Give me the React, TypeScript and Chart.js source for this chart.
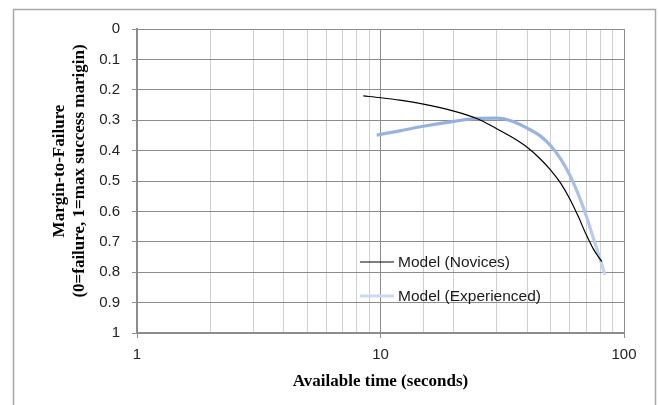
import React, { useEffect, useRef } from 'react';
import { Chart, registerables } from 'chart.js';

Chart.register(...registerables);

// ---- data ----
const noviceX = [8.5, 10, 12, 15, 20, 25, 30, 35, 40, 45, 50, 55, 60, 65, 70, 75, 81];
const noviceY = [0.22, 0.226, 0.234, 0.247, 0.27, 0.295, 0.328, 0.358, 0.389, 0.425, 0.464, 0.508, 0.56, 0.618, 0.677, 0.725, 0.765];

const expX = [9.65, 12, 15, 20, 25, 30, 35, 40, 45, 50, 55, 60, 65, 70, 75, 80, 83.5];
const expY = [0.349, 0.335, 0.32, 0.304, 0.294, 0.293, 0.304, 0.326, 0.35, 0.384, 0.428, 0.482, 0.545, 0.615, 0.69, 0.76, 0.809];

const seriesLabels = ['Model (Novices)', 'Model (Experienced)'];
const xTickLabels = [1, 10, 100];
const xTitle = 'Available time (seconds)';
const yTitle = ['Margin-to-Failure', '(0=failure, 1=max success marigin)'];

const isMajor = (v: number) => {
  if (!(v > 0)) return false;
  const l = Math.log10(v);
  return Math.abs(l - Math.round(l)) < 1e-9;
};

export default function App() {
  const ref = useRef<HTMLCanvasElement>(null);

  useEffect(() => {
    const canvas = ref.current!;
    const ctx = canvas.getContext('2d')!;
    const grad = ctx.createLinearGradient(0, 110, 0, 300);
    grad.addColorStop(0, '#92ade1');
    grad.addColorStop(1, '#cddaf2');

    const decor = {
      id: 'decor',
      beforeDraw(chart: any) {
        const c = chart.ctx;
        c.save();
        c.fillStyle = '#ffffff';
        c.fillRect(0, 0, chart.width, chart.height);
        c.strokeStyle = '#a8a8a8';
        c.lineWidth = 1.5;
        c.strokeRect(13.5, 9.5, 642, 430);
        c.restore();
      },
      afterDraw(chart: any) {
        const c = chart.ctx;
        c.save();
        // y-axis title
        c.translate(60, 171);
        c.rotate(-Math.PI / 2);
        c.fillStyle = '#000';
        c.font = 'bold 17px "Liberation Serif"';
        c.textAlign = 'center';
        c.textBaseline = 'middle';
        yTitle.forEach((t, i) => c.fillText(t, 0, i * 20));
        c.restore();

        // legend
        c.save();
        const ys = [262, 296];
        chart.data.datasets.forEach((ds: any, i: number) => {
          c.beginPath();
          c.strokeStyle = ds.borderColor;
          c.lineWidth = ds.borderWidth;
          c.moveTo(360, ys[i]);
          c.lineTo(394, ys[i]);
          c.stroke();
          c.fillStyle = '#1a1a1a';
          c.font = '15.5px "Liberation Sans"';
          c.textAlign = 'left';
          c.textBaseline = 'middle';
          c.fillText(ds.label, 398, ys[i] + 1);
        });
        c.restore();
      },
    };

    const chart = new Chart(canvas, {
      type: 'line',
      data: {
        datasets: [
          {
            label: seriesLabels[0],
            data: noviceX.map((x, i) => ({ x, y: noviceY[i] })),
            borderColor: '#000000',
            borderWidth: 1.2,
            pointRadius: 0,
            cubicInterpolationMode: 'monotone',
            fill: false,
          },
          {
            label: seriesLabels[1],
            data: expX.map((x, i) => ({ x, y: expY[i] })),
            borderColor: grad,
            borderWidth: 3.2,
            pointRadius: 0,
            cubicInterpolationMode: 'monotone',
            fill: false,
          },
        ],
      },
      options: {
        animation: false,
        responsive: false,
        devicePixelRatio: 1,
        layout: { padding: { left: 0, top: 29, right: 35, bottom: 0 } },
        plugins: {
          legend: { display: false },
          tooltip: { enabled: false },
        },
        scales: {
          x: {
            type: 'logarithmic',
            position: 'bottom',
            min: 1,
            max: 100,
            afterFit: (s: any) => {
              s.height = 72;
            },
            ticks: {
              autoSkip: false,
              maxRotation: 0,
              padding: 8,
              color: '#222',
              font: { family: '"Liberation Sans"', size: 15 },
              callback: (v: any) => (xTickLabels.includes(Number(v)) ? String(v) : ''),
            },
            grid: {
              color: (c: any) => (isMajor(c.tick?.value) ? '#8c8c8c' : '#cfcfcf'),
              tickColor: (c: any) => (isMajor(c.tick?.value) ? '#8c8c8c' : 'rgba(0,0,0,0)'),
              tickLength: 5,
              lineWidth: 1,
            },
            border: { color: '#8c8c8c', width: 2 },
            title: {
              display: true,
              text: xTitle,
              color: '#000',
              font: { family: '"Liberation Serif"', size: 17, weight: 'bold', lineHeight: 1.25 },
              padding: { top: 0, bottom: 13 },
            },
          },
          y: {
            type: 'linear',
            reverse: true,
            min: 0,
            max: 1,
            afterFit: (s: any) => {
              s.width = 137;
            },
            ticks: {
              stepSize: 0.1,
              padding: 12,
              color: '#222',
              font: { family: '"Liberation Sans"', size: 15 },
              callback: (v: any) => String(Math.round(Number(v) * 10) / 10),
            },
            grid: {
              color: '#8c8c8c',
              tickColor: '#8c8c8c',
              tickLength: 5,
              lineWidth: 1,
            },
            border: { color: '#8c8c8c', width: 2 },
          },
        },
      },
      plugins: [decor],
    } as any);

    return () => chart.destroy();
  }, []);

  return (
    <div style={{ position: 'fixed', left: 0, top: 0, width: 659, height: 405, background: '#fff' }}>
      <canvas ref={ref} width={659} height={405} style={{ display: 'block', width: 659, height: 405 }} />
    </div>
  );
}
